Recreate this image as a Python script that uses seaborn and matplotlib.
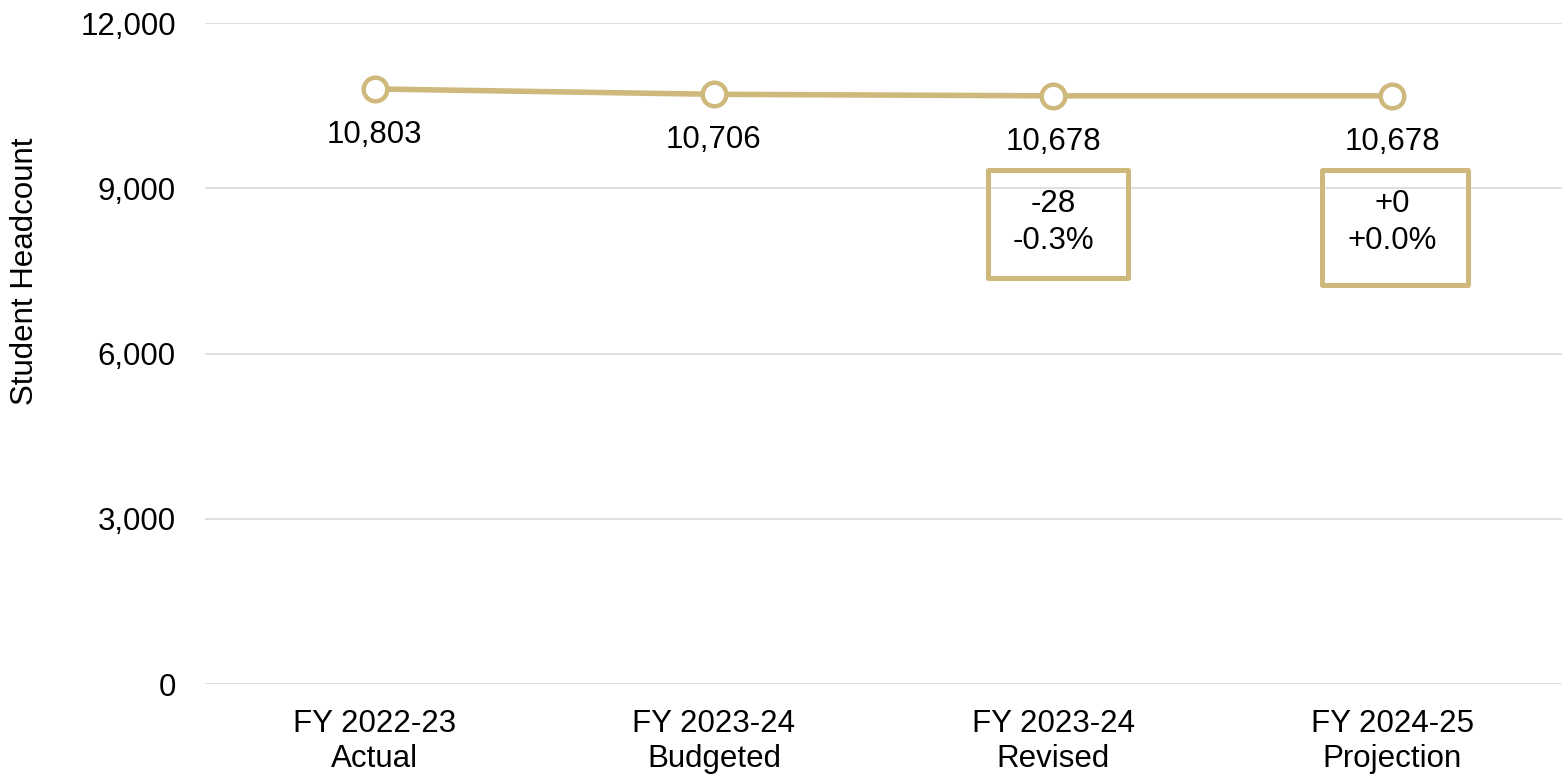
import matplotlib
matplotlib.use("Agg")
import matplotlib.pyplot as plt
import seaborn as sns
import pandas as pd
from matplotlib.patches import Rectangle

categories = ["FY 2022-23\nActual", "FY 2023-24\nBudgeted", "FY 2023-24\nRevised", "FY 2024-25\nProjection"]
headcount = [10803, 10706, 10678, 10678]
change_labels = ["", "", "-28\n-0.3%", "+0\n+0.0%"]
yticks = [0, 3000, 6000, 9000, 12000]

GOLD = "#CFB87C"
FS = 22.5

sns.set_theme(style="white")
plt.rcParams['font.family'] = ['Liberation Sans', 'DejaVu Sans']

df = pd.DataFrame({"cat": categories, "val": headcount})

fig = plt.figure(figsize=(15.64, 7.75), dpi=100)
ax = fig.add_axes([0.1311, 0.1174, 0.8676, 0.8529])

sns.lineplot(data=df, x="cat", y="val", ax=ax, color=GOLD, linewidth=4,
             marker="o", markersize=17, markerfacecolor="white",
             markeredgecolor=GOLD, markeredgewidth=3.2, sort=False)

ax.set_xlim(-0.5, 3.5)
ax.set_ylim(0, 12000)
ax.set_yticks(yticks)
ax.set_yticklabels([f"{v:,}" for v in yticks], fontsize=FS, color="black")
ax.set_xticks(range(len(categories)))
ax.set_xticklabels(categories, fontsize=FS, linespacing=1.22, color="black")
ax.tick_params(axis="both", length=0)
ax.tick_params(axis="y", pad=21)
ax.tick_params(axis="x", pad=18)
ax.yaxis.grid(True, color="#D9D9D9", linewidth=1.2)
ax.set_axisbelow(True)
for s in ax.spines.values():
    s.set_visible(False)
ax.set_xlabel("")
ax.set_ylabel("Student Headcount", fontsize=FS, color="black")
ax.yaxis.set_label_coords(-0.1216, 0.625)

for i, v in enumerate(headcount):
    ax.annotate(f"{v:,}", xy=(i, v), xytext=(0, -33), textcoords="offset points",
                ha="center", va="center", fontsize=FS, color="black")

box_specs = {2: (1.808, 2.221, 7371, 9331), 3: (2.793, 3.223, 7244, 9331)}
for i, lab in enumerate(change_labels):
    if lab:
        x0, x1, y0, y1 = box_specs[i]
        ax.add_patch(Rectangle((x0, y0), x1 - x0, y1 - y0, fill=False,
                               edgecolor=GOLD, linewidth=3.6, zorder=3,
                               joinstyle="round"))
        ax.text(i, 8380, lab, ha="center", va="center", fontsize=FS,
                linespacing=1.32, color="black")

fig.savefig("out.png", dpi=100)
